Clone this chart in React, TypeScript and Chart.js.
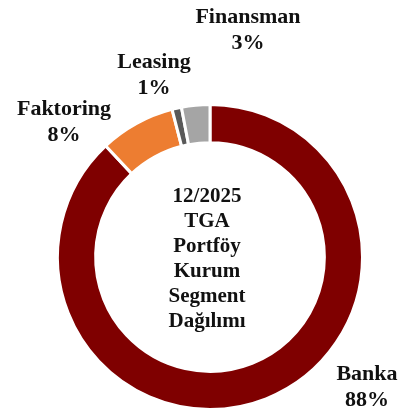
import React, { useEffect, useRef } from "react";
import { Chart, registerables } from "chart.js";

Chart.register(...registerables);

const categories = ["Banka", "Faktoring", "Leasing", "Finansman"];
const values = [88, 8, 1, 3];
const colors = ["#7f0000", "#ed7d31", "#595959", "#a5a5a5"];
const centerLines = ["12/2025", "TGA", "Portföy", "Kurum", "Segment", "Dağılımı"];

// label anchor (centre x, first-line baseline y) in canvas pixels
const labelAnchors: Record<string, [number, number]> = {
  Banka: [367, 380],
  Faktoring: [64, 115],
  Leasing: [154, 68],
  Finansman: [248, 23],
};

const labelsPlugin = {
  id: "customLabels",
  afterDraw(chart: any) {
    const ctx = chart.ctx as CanvasRenderingContext2D;
    const meta = chart.getDatasetMeta(0);
    const arc = meta.data[0];
    ctx.save();
    ctx.fillStyle = "#111";
    ctx.textAlign = "center";
    ctx.textBaseline = "alphabetic";
    // centre text
    ctx.font = "bold 21px 'Liberation Serif', 'Times New Roman', serif";
    const cx = arc.x - 3;
    const startY = arc.y - 55;
    centerLines.forEach((l, i) => ctx.fillText(l, cx, startY + i * 25));
    // outside labels
    ctx.font = "bold 22px 'Liberation Serif', 'Times New Roman', serif";
    const total = values.reduce((a, b) => a + b, 0);
    categories.forEach((c, i) => {
      const [x, y] = labelAnchors[c];
      const pct = Math.round((values[i] / total) * 100) + "%";
      ctx.fillText(c, x, y);
      ctx.fillText(pct, x, y + 26);
    });
    ctx.restore();
  },
};

export default function App() {
  const ref = useRef<HTMLCanvasElement>(null);
  useEffect(() => {
    document.body.style.margin = "0";
    const chart = new Chart(ref.current!, {
      type: "doughnut",
      data: {
        labels: categories,
        datasets: [
          {
            data: values,
            backgroundColor: colors,
            borderColor: "#ffffff",
            borderWidth: 3,
          },
        ],
      },
      options: {
        animation: false,
        responsive: false,
        cutout: "75%",
        rotation: 0,
        layout: { padding: { left: 56, right: 42, top: 102, bottom: 3 } },
        plugins: {
          legend: { display: false },
          tooltip: { enabled: false },
        },
      },
      plugins: [labelsPlugin],
    });
    return () => chart.destroy();
  }, []);
  return (
    <div style={{ width: 406, height: 415, position: "relative" }}>
      <canvas ref={ref} width={406} height={415} style={{ display: "block" }} />
    </div>
  );
}
